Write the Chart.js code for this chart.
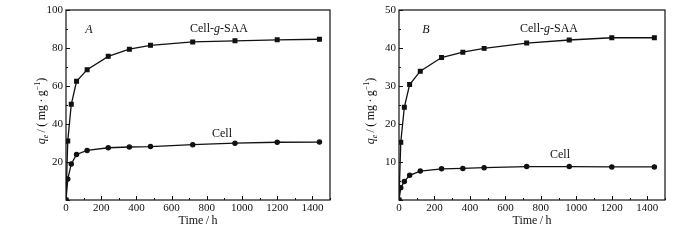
<!DOCTYPE html>
<html><head><meta charset="utf-8">
<script src="https://cdn.jsdelivr.net/npm/chart.js@4"></script>
<style>
html,body{margin:0;padding:0;background:#fff;}
#wrap{position:relative;width:700px;height:240px;overflow:hidden;}
canvas{position:absolute;top:0;}
</style></head><body>
<div id="wrap">
<canvas id="ca" width="350" height="240" style="left:0"></canvas>
<canvas id="cb" width="350" height="240" style="left:350px"></canvas>
</div>
<script>
// ---- data ----
const hours = [0, 10, 30, 60, 120, 240, 360, 480, 720, 960, 1200, 1440];
const saaA  = [0, 31.0, 50.4, 62.5, 68.6, 75.6, 79.4, 81.4, 83.2, 83.8, 84.3, 84.6];
const cellA = [0, 11.0, 19.0, 24.0, 26.1, 27.5, 27.9, 28.1, 29.1, 29.9, 30.4, 30.5];
const saaB  = [0, 15.2, 24.4, 30.4, 33.9, 37.5, 38.9, 39.9, 41.3, 42.1, 42.7, 42.7];
const cellB = [0, 3.2, 4.9, 6.5, 7.6, 8.2, 8.3, 8.5, 8.8, 8.8, 8.7, 8.7];
const xTicks = [0, 200, 400, 600, 800, 1000, 1200, 1400];
const yTicksA = [20, 40, 60, 80, 100];
const yTicksB = [10, 20, 30, 40, 50];
const seriesNames = ['Cell-g-SAA', 'Cell'];

const INK = '#111';
const SERIF = '"Liberation Serif","Times New Roman",serif';

function pts(xs, ys){ return xs.map((x,i)=>({x:x, y:ys[i]})); }

function drawRich(ctx, segs, cx, cy, rot){
  ctx.save();
  ctx.translate(cx, cy);
  if (rot) ctx.rotate(rot);
  let w = 0;
  segs.forEach(s=>{ ctx.font = s.f; s.w = ctx.measureText(s.t).width; w += s.w; });
  let x = -w/2;
  ctx.fillStyle = INK;
  ctx.textBaseline = 'alphabetic';
  ctx.textAlign = 'left';
  segs.forEach(s=>{ ctx.font = s.f; ctx.fillText(s.t, x, 4 + (s.dy||0)); x += s.w; });
  ctx.restore();
}

function makePlugin(cfg){
  return {
    id: 'deco',
    afterDraw(chart){
      const ctx = chart.ctx, a = chart.chartArea;
      const xs = chart.scales.x, ys = chart.scales.y;
      ctx.save();
      ctx.strokeStyle = INK;
      ctx.lineWidth = 1.2;
      ctx.strokeRect(a.left, a.top, a.right - a.left, a.bottom - a.top);
      ctx.lineWidth = 1;
      ctx.beginPath();
      for (let v = 0; v <= 1500; v += 100){
        const p = Math.round(xs.getPixelForValue(v)) + 0.5;
        const L = (v % 200 === 0) ? 4 : 2;
        ctx.moveTo(p, a.bottom); ctx.lineTo(p, a.bottom - L);
      }
      const step = cfg.yMax / 10;
      for (let i = 0; i <= 10; i++){
        const v = i * step;
        const p = Math.round(ys.getPixelForValue(v)) + 0.5;
        const L = (i % 2 === 0) ? 4 : 2;
        ctx.moveTo(a.left, p); ctx.lineTo(a.left + L, p);
      }
      ctx.stroke();
      ctx.restore();

      const R12 = '12px ' + SERIF, I12 = 'italic 12px ' + SERIF;
      const S8 = '8px ' + SERIF, SI8 = 'italic 8px ' + SERIF;
      // panel letter
      drawRich(ctx, [{t: cfg.letter, f: 'italic 12px ' + SERIF}], cfg.letterX, cfg.letterY, 0);
      // series labels
      drawRich(ctx, [{t:'Cell-', f:R12},{t:'g', f:I12},{t:'-SAA', f:R12}], cfg.saaX, cfg.saaY, 0);
      drawRich(ctx, [{t:seriesNames[1], f:R12}], cfg.cellX, cfg.cellY, 0);
      // x title
      drawRich(ctx, [{t:'Time\u2009/\u2009h', f:R12}], (a.left + a.right)/2, 220, 0);
      // y title
      drawRich(ctx, [
        {t:'q', f:I12},
        {t:'e', f:SI8, dy:3},
        {t:'\u2009/\u2009(\u2009mg\u2009\u00b7\u2009g', f:R12},
        {t:'\u22121', f:S8, dy:-5},
        {t:')', f:R12}
      ], cfg.ytX, cfg.ytY, -Math.PI/2);
    }
  };
}

function makeChart(id, saa, cell, yMax, yTicks, pad, yw, cfg){
  const ctx = document.getElementById(id).getContext('2d');
  return new Chart(ctx, {
    type: 'line',
    data: {
      datasets: [
        { label: seriesNames[0], data: pts(hours, saa), borderColor: INK, backgroundColor: INK,
          borderWidth: 1.3, pointStyle: 'rect', pointRadius: 2.6, tension: 0 },
        { label: seriesNames[1], data: pts(hours, cell), borderColor: INK, backgroundColor: INK,
          borderWidth: 1.3, pointStyle: 'circle', pointRadius: 2.1, tension: 0 }
      ]
    },
    options: {
      responsive: false,
      animation: false,
      devicePixelRatio: 1,
      layout: { padding: pad },
      plugins: { legend: {display:false}, tooltip: {enabled:false} },
      scales: {
        x: {
          type: 'linear', min: 0, max: 1500,
          grid: { display: false, drawTicks: false },
          border: { display: false },
          afterFit(s){ s.height = 40; },
          afterBuildTicks(s){ s.ticks = xTicks.map(v=>({value:v})); },
          ticks: { color: INK, padding: 2, maxRotation: 0, autoSkip: false,
                   callback: v => String(v),
                   font: { family: SERIF, size: 11 } }
        },
        y: {
          type: 'linear', min: 0, max: yMax,
          grid: { display: false, drawTicks: false },
          border: { display: false },
          afterFit(s){ s.width = yw; },
          afterBuildTicks(s){ s.ticks = yTicks.map(v=>({value:v})); },
          ticks: { color: INK, padding: 3, autoSkip: false,
                   callback: v => String(v),
                   font: { family: SERIF, size: 11 } }
        }
      }
    },
    plugins: [makePlugin(cfg)]
  });
}

makeChart('ca', saaA, cellA, 100, yTicksA, {left:0, top:10, right:20, bottom:0}, 66,
  {yMax:100, letter:'A', letterX:89, letterY:29, saaX:219, saaY:28, cellX:222, cellY:133, ytX:41, ytY:111});
makeChart('cb', saaB, cellB, 50, yTicksB, {left:0, top:10, right:35, bottom:0}, 49,
  {yMax:50, letter:'B', letterX:76, letterY:29, saaX:199, saaY:28, cellX:210, cellY:154, ytX:20, ytY:111});
</script>
</body></html>
